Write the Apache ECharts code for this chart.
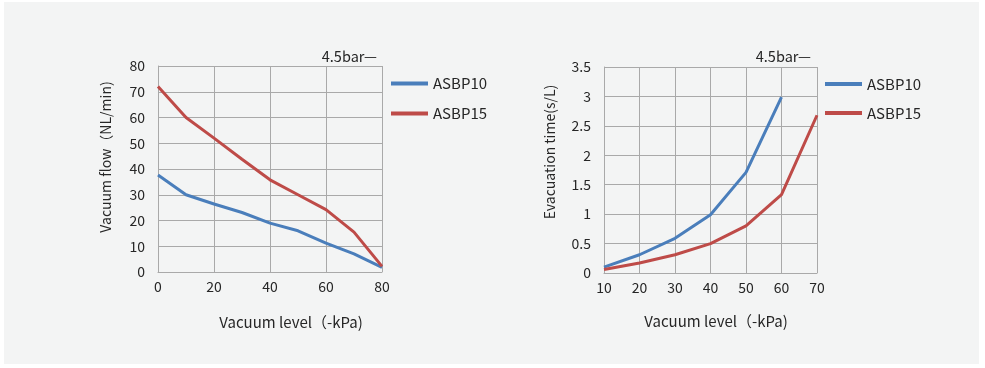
<!DOCTYPE html>
<html>
<head>
<meta charset="utf-8">
<script src="https://cdn.jsdelivr.net/npm/echarts@6/dist/echarts.min.js"></script>
<style>
html,body{margin:0;padding:0;background:#ffffff;}
#main{width:985px;height:368px;}
</style>
</head>
<body>
<div id="main"></div>
<script>
// Chart 1: Vacuum flow vs vacuum level
const flowLevels = [0, 10, 20, 30, 40, 50, 60, 70, 80];
const flowASBP10 = [37.7, 30, 26.4, 23.1, 19, 16, 11.2, 7, 1.8];
const flowASBP15 = [72, 60, 52, 43.8, 35.8, 30, 24.2, 15.5, 2.2];
// Chart 2: Evacuation time vs vacuum level
const evacLevelsA = [10, 20, 30, 40, 50, 60];
const evacASBP10 = [0.1, 0.31, 0.59, 0.99, 1.71, 2.99];
const evacLevelsB = [10, 20, 30, 40, 50, 60, 70];
const evacASBP15 = [0.06, 0.17, 0.31, 0.5, 0.8, 1.33, 2.68];
const seriesNames = ['ASBP10', 'ASBP15'];
const pressureNote = '4.5bar—';
const xName = 'Vacuum level（-kPa)';
const yName1 = 'Vacuum flow（NL/min)';
const yName2 = 'Evacuation time(s/L)';

const FONT = '"Noto Sans CJK SC", "Noto Sans", sans-serif';
const BLUE = '#4a7ebb';
const RED = '#be4b48';
const GRIDC = '#a9a9a9';
const TXT = '#262626';

const zip = (xs, ys) => xs.map((x, i) => [x, ys[i]]);

const axisCommon = {
  axisLine: { show: true, lineStyle: { color: GRIDC, width: 1 } },
  axisTick: { show: false },
  splitLine: { show: true, lineStyle: { color: GRIDC, width: 1 } },
  axisLabel: { color: TXT, fontFamily: FONT, fontSize: 14 }
};

const chart = echarts.init(document.getElementById('main'), null, { renderer: 'canvas' });
chart.setOption({
  backgroundColor: '#ffffff',
  textStyle: { fontFamily: FONT },
  animation: false,
  grid: [
    { left: 158, right: 603, top: 66, bottom: 96 },
    { left: 604, right: 168, top: 67, bottom: 95 }
  ],
  xAxis: [
    Object.assign({}, axisCommon, { type: 'value', gridIndex: 0, min: 0, max: 80, interval: 20,
      axisLabel: Object.assign({}, axisCommon.axisLabel, { margin: 8 }) }),
    Object.assign({}, axisCommon, { type: 'value', gridIndex: 1, min: 10, max: 70, interval: 10,
      axisLabel: Object.assign({}, axisCommon.axisLabel, { margin: 8 }) })
  ],
  yAxis: [
    Object.assign({}, axisCommon, { type: 'value', gridIndex: 0, min: 0, max: 80, interval: 10,
      axisLabel: Object.assign({}, axisCommon.axisLabel, { margin: 13 }) }),
    Object.assign({}, axisCommon, { type: 'value', gridIndex: 1, min: 0, max: 3.5, interval: 0.5,
      axisLabel: Object.assign({}, axisCommon.axisLabel, { margin: 13 }) })
  ],
  legend: [
    { data: seriesNames, orient: 'vertical', left: 391, top: 73.5, itemWidth: 37, itemHeight: 4,
      itemGap: 10, icon: 'rect', textStyle: { color: TXT, fontSize: 15, fontFamily: FONT, lineHeight: 20 },
      padding: 0, selectedMode: false },
    { data: seriesNames, orient: 'vertical', left: 825, top: 74, itemWidth: 37, itemHeight: 4,
      itemGap: 9, icon: 'rect', textStyle: { color: TXT, fontSize: 15, fontFamily: FONT, lineHeight: 20 },
      padding: 0, selectedMode: false }
  ],
  series: [
    { name: seriesNames[0], type: 'line', xAxisIndex: 0, yAxisIndex: 0, data: zip(flowLevels, flowASBP10),
      showSymbol: false, symbol: 'none', lineStyle: { color: BLUE, width: 3 }, itemStyle: { color: BLUE } },
    { name: seriesNames[1], type: 'line', xAxisIndex: 0, yAxisIndex: 0, data: zip(flowLevels, flowASBP15),
      showSymbol: false, symbol: 'none', lineStyle: { color: RED, width: 3 }, itemStyle: { color: RED } },
    { name: seriesNames[0], type: 'line', xAxisIndex: 1, yAxisIndex: 1, data: zip(evacLevelsA, evacASBP10),
      showSymbol: false, symbol: 'none', lineStyle: { color: BLUE, width: 3 }, itemStyle: { color: BLUE } },
    { name: seriesNames[1], type: 'line', xAxisIndex: 1, yAxisIndex: 1, data: zip(evacLevelsB, evacASBP15),
      showSymbol: false, symbol: 'none', lineStyle: { color: RED, width: 3 }, itemStyle: { color: RED } }
  ],
  graphic: [
    { type: 'rect', z: -10, silent: true, shape: { x: 4, y: 2, width: 975, height: 362 }, style: { fill: '#f3f4f4' } },
    { type: 'text', x: 377, y: 56, style: { text: pressureNote, fill: TXT, font: '14.5px ' + FONT, textAlign: 'right', textVerticalAlign: 'middle' } },
    { type: 'text', x: 811, y: 56, style: { text: pressureNote, fill: TXT, font: '14.5px ' + FONT, textAlign: 'right', textVerticalAlign: 'middle' } },
    { type: 'text', x: 291, y: 322, style: { text: xName, fill: TXT, font: '15px ' + FONT, textAlign: 'center', textVerticalAlign: 'middle' } },
    { type: 'text', x: 716, y: 321, style: { text: xName, fill: TXT, font: '15px ' + FONT, textAlign: 'center', textVerticalAlign: 'middle' } },
    { type: 'text', x: 106, y: 157, rotation: Math.PI / 2, style: { text: yName1, fill: TXT, font: '14px ' + FONT, textAlign: 'center', textVerticalAlign: 'middle' } },
    { type: 'text', x: 550, y: 152, rotation: Math.PI / 2, style: { text: yName2, fill: TXT, font: '14px ' + FONT, textAlign: 'center', textVerticalAlign: 'middle' } }
  ]
});
</script>
</body>
</html>
